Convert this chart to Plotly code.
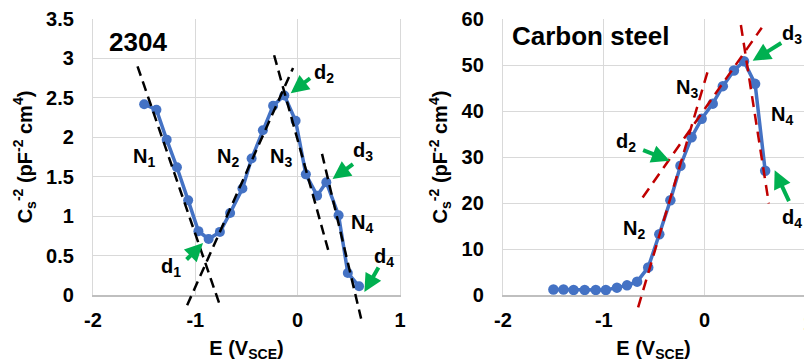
import plotly.graph_objects as go

# ---------------- data ----------------
E_2304 = [-1.50, -1.38, -1.28, -1.18, -1.07, -0.97, -0.87, -0.76, -0.66, -0.54, -0.45,
          -0.34, -0.24, -0.13, -0.02, 0.08, 0.19, 0.28, 0.40, 0.49, 0.60]
C_2304 = [2.42, 2.35, 1.97, 1.62, 1.20, 0.81, 0.71, 0.80, 1.04, 1.35, 1.73,
          2.09, 2.40, 2.53, 2.21, 1.53, 1.26, 1.43, 1.01, 0.28, 0.11]

E_cs = [-1.50, -1.40, -1.30, -1.19, -1.08, -0.98, -0.87, -0.77, -0.67, -0.56, -0.45,
        -0.34, -0.24, -0.13, -0.03, 0.08, 0.18, 0.29, 0.39, 0.50, 0.60]
C_cs = [1.2, 1.2, 1.1, 1.1, 1.1, 1.1, 1.6, 2.1, 2.9, 6.0, 13.2,
        20.6, 28.1, 34.3, 38.3, 41.6, 45.4, 48.8, 50.8, 45.9, 27.0]

# tangent (dashed) lines: [x0, x1], [y0, y1]
tan_2304 = [
    ([-1.565, -0.76], [2.90, -0.13]),
    ([-1.08, -0.045], [-0.13, 2.88]),
    ([-0.23, 0.307], [3.04, 0.53]),
    ([0.238, 0.62], [1.79, -0.30]),
]
tan_cs = [
    ([-0.66, 0.046], [-2.7, 49.8]),
    ([-0.615, 0.566], [21.2, 58.1]),
    ([0.359, 0.636], [58.7, 19.9]),
]

x_ticks = [-2, -1, 0, 1]
y_ticks_2304 = [0, 0.5, 1, 1.5, 2, 2.5, 3, 3.5]
y_ticks_cs = [0, 10, 20, 30, 40, 50, 60]

# labels: (text, x, y)
labels_2304 = [("N<sub>1</sub>", -1.50, 1.74), ("N<sub>2</sub>", -0.68, 1.74),
               ("N<sub>3</sub>", -0.165, 1.75), ("N<sub>4</sub>", 0.633, 0.91),
               ("d<sub>1</sub>", -1.236, 0.355), ("d<sub>2</sub>", 0.253, 2.81),
               ("d<sub>3</sub>", 0.642, 1.825), ("d<sub>4</sub>", 0.847, 0.48)]
labels_cs = [("N<sub>3</sub>", -0.179, 44.8), ("N<sub>4</sub>", 0.764, 39.0),
             ("N<sub>2</sub>", -0.704, 14.3), ("d<sub>2</sub>", -0.784, 33.1),
             ("d<sub>3</sub>", 0.863, 56.7), ("d<sub>4</sub>", 0.863, 16.7)]
# arrows: (tail x, tail y, head x, head y)
arrows_2304 = [(-1.100, 0.431, -0.925, 0.659), (0.136, 2.763, -0.068, 2.560),
               (0.555, 1.673, 0.341, 1.470), (0.798, 0.368, 0.652, 0.038)]
arrows_cs = [(-0.625, 31.6, -0.347, 29.2), (0.774, 55.0, 0.476, 50.9),
             (0.843, 20.1, 0.694, 27.1)]

# ---------------- layout geometry ----------------
W, H = 804, 362
BLUE = "#4472C4"
GREEN = "#00B050"
GRID = "#d9d9d9"
FONT = "Liberation Sans, Arial, sans-serif"

y_top = (H - 19) / H
y_bot = (H - 295) / H
y_bot_ext = (H - 335) / H
xdom_l = [93 / W, 400 / W]
xdom_r = [503 / W, 1.0]

yr_l = [0, 3.5]
yr_r = [0, 60]
def ext_range(r):
    span = r[1] - r[0]
    lo = r[1] - span * (y_top - y_bot_ext) / (y_top - y_bot)
    return [lo, r[1]]

xr_l = [-2, 1]
xr_r = [-2, 0.985]

fig = go.Figure()

fig.add_trace(go.Scatter(x=E_2304, y=C_2304, mode="lines+markers",
                         line=dict(color=BLUE, width=3.5),
                         marker=dict(color=BLUE, size=10),
                         xaxis="x", yaxis="y", showlegend=False))
fig.add_trace(go.Scatter(x=E_cs, y=C_cs, mode="lines+markers",
                         line=dict(color=BLUE, width=3.5),
                         marker=dict(color=BLUE, size=10.5),
                         xaxis="x2", yaxis="y2", showlegend=False))
for xs, ys in tan_2304:
    fig.add_trace(go.Scatter(x=xs, y=ys, mode="lines",
                             line=dict(color="black", width=2.5, dash="10px,6px"),
                             xaxis="x3", yaxis="y3", showlegend=False))
for xs, ys in tan_cs:
    fig.add_trace(go.Scatter(x=xs, y=ys, mode="lines",
                             line=dict(color="#C00000", width=2.5, dash="11px,7px"),
                             xaxis="x4", yaxis="y4", showlegend=False))

tickfont = dict(family=FONT, size=20, color="black", weight="bold")
titlefont = dict(family=FONT, size=20, color="black", weight="bold")

def xaxis(dom, rng, anchor):
    return dict(domain=dom, range=rng, anchor=anchor, tickmode="array", automargin=False,
                tickvals=x_ticks, ticktext=[str(v) for v in x_ticks],
                showgrid=True, gridcolor=GRID, gridwidth=1.3, zeroline=False,
                showline=True, linecolor="#bfbfbf", linewidth=1.5, ticks="",
                tickfont=tickfont, ticklabelstandoff=6,
                title=dict(text="E (V<sub>SCE</sub>)", font=titlefont, standoff=11))

def yaxis(rng, vals, anchor, mirror):
    return dict(domain=[y_bot, y_top], range=rng, anchor=anchor, tickmode="array",
                automargin=False,
                tickvals=vals, ticktext=[f"{v:g}" for v in vals],
                showgrid=True, gridcolor=GRID, gridwidth=1.3, zeroline=False,
                showline=True, linecolor=GRID, linewidth=1.3, mirror=mirror, ticks="",
                tickfont=tickfont, ticklabelstandoff=14,
                title=dict(text="C<sub>s</sub><sup>-2</sup> (pF<sup>-2</sup> cm<sup>4</sup>)",
                           font=titlefont, standoff=8))

def hidden(dom, rng, anchor):
    return dict(domain=dom, range=rng, anchor=anchor, visible=False, automargin=False,
                showgrid=False, zeroline=False)

annotations = []
annotations.append(dict(text="<b>2304</b>", x=-1.562, y=3.207, xref="x", yref="y",
                        showarrow=False, font=dict(family=FONT, size=26, color="black")))
annotations.append(dict(text="<b>Carbon steel</b>", x=-1.131, y=56.3, xref="x2", yref="y2",
                        showarrow=False, font=dict(family=FONT, size=26, color="black")))
for t, x, y in labels_2304:
    annotations.append(dict(text=f"<b>{t}</b>", x=x, y=y, xref="x", yref="y", showarrow=False,
                            font=dict(family=FONT, size=20, color="black")))
for t, x, y in labels_cs:
    annotations.append(dict(text=f"<b>{t}</b>", x=x, y=y, xref="x2", yref="y2", showarrow=False,
                            font=dict(family=FONT, size=20, color="black")))
for (tx, ty, hx, hy) in arrows_2304:
    annotations.append(dict(text="", x=hx, y=hy, ax=tx, ay=ty, xref="x", yref="y",
                            axref="x", ayref="y", showarrow=True, arrowhead=2,
                            arrowsize=0.9, arrowwidth=4, arrowcolor=GREEN, standoff=0))
for (tx, ty, hx, hy) in arrows_cs:
    annotations.append(dict(text="", x=hx, y=hy, ax=tx, ay=ty, xref="x2", yref="y2",
                            axref="x2", ayref="y2", showarrow=True, arrowhead=2,
                            arrowsize=0.9, arrowwidth=4, arrowcolor=GREEN, standoff=0))
# tick label "1" of the right chart, cut by the right edge of the picture
annotations.append(dict(text="<b>1</b>", x=1 + 4 / W, y=(H - 323) / H, xref="paper", yref="paper",
                        xanchor="center", yanchor="middle", showarrow=False,
                        font=dict(family=FONT, size=20, color="black")))

fig.update_layout(
    width=W, height=H, margin=dict(l=0, r=0, t=0, b=0, autoexpand=False),
    paper_bgcolor="white", plot_bgcolor="rgba(0,0,0,0)",
    font=dict(family=FONT, color="black"),
    xaxis=xaxis(xdom_l, xr_l, "y"),
    yaxis=yaxis(yr_l, y_ticks_2304, "x", True),
    xaxis2=xaxis(xdom_r, xr_r, "y2"),
    yaxis2=yaxis(yr_r, y_ticks_cs, "x2", False),
    xaxis3=hidden(xdom_l, xr_l, "y3"),
    yaxis3=hidden([y_bot_ext, y_top], ext_range(yr_l), "x3"),
    xaxis4=hidden(xdom_r, xr_r, "y4"),
    yaxis4=hidden([y_bot_ext, y_top], ext_range(yr_r), "x4"),
    annotations=annotations,
)

fig.write_html("out.html", config={"displayModeBar": False},
               post_script="document.body.style.margin='0';")
